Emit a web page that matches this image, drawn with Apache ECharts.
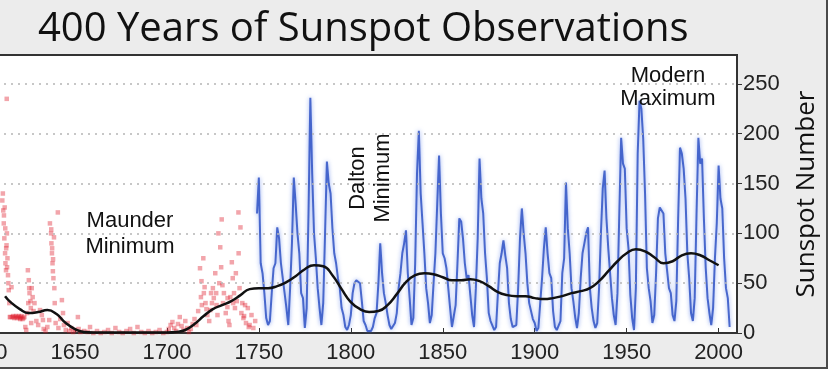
<!DOCTYPE html>
<html>
<head>
<meta charset="utf-8">
<script src="https://cdn.jsdelivr.net/npm/echarts@6/dist/echarts.min.js"></script>
<style>
  html, body { margin: 0; padding: 0; background: #fff; }
  #chart { width: 830px; height: 375px; }
</style>
</head>
<body>
<div id="chart"></div>
<script>
// early telescope observations (red squares), 1610-1748
var earlyYears = [1610.5, 1611, 1611.3, 1611.6, 1611.8, 1612, 1612.2, 1612.5, 1612.8, 1612.9, 1613, 1613.3, 1613.6, 1614, 1614.3, 1614.6,
  1615, 1615.5, 1616, 1616.5, 1617, 1617.5, 1618, 1618.5, 1619, 1619.5, 1620, 1620.5, 1621, 1621.5, 1622, 1622.5, 1623, 1623.5,
  1624, 1624.4, 1624.9, 1625.3, 1625.8, 1626, 1626.5, 1627, 1627.5, 1628, 1629, 1630, 1631, 1632, 1632.6, 1633, 1634, 1635, 1636,
  1636.4, 1637, 1637.2, 1637.5, 1637.8, 1638, 1638.3, 1638.6, 1639, 1639.5, 1640.7, 1641, 1642, 1642.9, 1643.5, 1644, 1645, 1646,
  1647, 1648, 1649, 1650, 1651.6, 1652, 1653, 1655, 1657, 1658.2, 1660, 1662, 1664, 1666, 1668, 1670, 1672, 1674, 1676, 1678,
  1680, 1682, 1684, 1686, 1688, 1690, 1692, 1694, 1696, 1698, 1700, 1701, 1702, 1703, 1704, 1705, 1706, 1707, 1708, 1709, 1710,
  1711, 1712, 1713, 1714, 1715, 1716, 1717, 1718, 1718.5, 1719, 1719.8, 1720.5, 1721, 1722, 1723, 1723.6, 1724, 1725, 1725.5,
  1726.3, 1727, 1728, 1728.5, 1729, 1729.5, 1729.8, 1730.5, 1731, 1732, 1732.9, 1733.5, 1734.5, 1735.3, 1735.8, 1736.5, 1737,
  1738, 1738.9, 1739.5, 1740, 1740.5, 1741, 1741.6, 1742, 1743, 1744, 1745, 1746, 1747, 1748,
  1610.8, 1611.4, 1612.1, 1612.6, 1613.1, 1613.8, 1620.2, 1624.6, 1625.1, 1626.2, 1637.1, 1637.6, 1638.1, 1638.8,
  1718.8, 1720.1, 1721.5, 1724.5, 1726.8, 1727.5, 1730.2, 1733, 1734, 1736, 1737.5, 1739, 1742.5, 1744.5]
var earlyValues = [133, 123, 110, 95, 126, 80, 70, 63, 88, 235, 100, 75, 58, 43, 30, 16,
  16, 46, 16, 17, 15, 16, 17, 15, 16, 17, 15, 16, 17, 14, 15, 16, 6, 3,
  20, 63, 53, 40, 32, 25, 45, 36, 22, 30, 12, 8, 23, 18, 13, 4, 2, 6, 13,
  110, 100, 90, 80, 70, 62, 55, 96, 30, 10, 121, 5, 14, 33, 20, 8, 3, 10,
  2, 5, 1, 3, 16, 4, 1, 2, 1, 6, 0, 2, 0, 1, 3, 0, 5, 1, 0, 2,
  4, 0, 6, 1, 0, 2, 0, 1, 3, 0, 1, 4, 8, 11, 5, 2, 9, 16, 7, 3, 12,
  5, 1, 4, 9, 14, 8, 22, 65, 36, 28, 75, 46, 30, 18, 12, 23, 40, 45, 35,
  60, 28, 100, 50, 86, 66, 114, 30, 40, 20, 26, 12, 36, 71, 55, 40, 25,
  32, 121, 45, 106, 20, 30, 15, 17, 10, 25, 8, 18, 5, 12,
  140, 118, 105, 85, 66, 50, 14, 30, 45, 10, 104, 85, 74, 45,
  52, 40, 24, 30, 40, 18, 48, 35, 8, 30, 60, 80, 28, 6]

// sunspot number (blue), one value per year from 1749
var firstYear = 1749
var sunspots = [120, 156, 70, 60, 40, 15, 8, 12, 40, 65, 70, 106, 95, 70, 55, 40, 25, 8, 45, 90,
  156, 130, 100, 80, 40, 35, 5, 25, 120, 236, 160, 100, 75, 45, 25, 8, 30, 100, 172, 150,
  140, 105, 80, 70, 55, 45, 25, 18, 6, 3, 8, 18, 40, 50, 53, 55, 50, 32, 12, 8,
  2, 0, 2, 6, 15, 20, 50, 90, 60, 40, 30, 18, 8, 4, 2, 10, 20, 45, 60, 80,
  90, 103, 60, 35, 8, 15, 70, 160, 203, 140, 110, 80, 45, 30, 10, 18, 50, 80, 130, 178,
  120, 80, 75, 65, 45, 25, 6, 4, 28, 70, 115, 112, 95, 70, 55, 58, 38, 18, 6, 45,
  95, 175, 135, 120, 80, 55, 20, 12, 14, 3, 6, 40, 70, 80, 93, 78, 65, 30, 14, 6,
  5, 8, 45, 95, 125, 100, 80, 50, 30, 32, 14, 10, 2, 5, 30, 55, 85, 106, 80, 60,
  55, 22, 6, 3, 1, 12, 60, 75, 151, 105, 80, 45, 32, 16, 5, 20, 55, 80, 90, 100,
  106, 45, 25, 12, 5, 10, 45, 100, 145, 163, 115, 85, 60, 35, 18, 8, 40, 120, 196, 170,
  165, 105, 85, 38, 15, 3, 45, 180, 233, 225, 195, 140, 65, 45, 32, 10, 18, 60, 115, 126,
  125, 120, 80, 82, 45, 40, 18, 12, 32, 115, 186, 180, 165, 135, 80, 55, 20, 12, 35, 120,
  196, 170, 175, 115, 65, 35, 20, 8, 25, 75, 110, 168, 135, 125, 75, 45, 35, 6]

// smoothed average (black)
var smoothYears = [1612, 1615, 1620, 1625, 1630, 1635, 1640, 1645, 1650, 1655, 1660, 1665, 1670, 1675, 1680, 1685, 1690, 1695,
  1700, 1705, 1710, 1715, 1720, 1725, 1730, 1735, 1740, 1745, 1750, 1755, 1760, 1765, 1770, 1775, 1780, 1785, 1790, 1795,
  1800, 1805, 1810, 1815, 1820, 1825, 1830, 1835, 1840, 1845, 1850, 1855, 1860, 1865, 1870, 1875, 1880, 1885, 1890, 1895,
  1900, 1905, 1910, 1915, 1920, 1925, 1930, 1935, 1940, 1945, 1950, 1955, 1960, 1965, 1970, 1975, 1980, 1985, 1990, 1995, 2000]
var smoothValues = [37, 31, 24, 20, 21, 23, 19, 10, 4, 1, 0.5, 0.5, 0.5, 0.5, 0.5, 0.5, 0.5, 0.5,
  0.5, 1, 3, 9, 17, 24, 28, 32, 38, 44, 45, 45, 47, 51, 57, 64, 68, 67, 58, 44,
  31, 24, 21, 22, 28, 39, 51, 58, 60, 59, 56, 53, 53, 54, 52, 47, 41, 38, 37, 37,
  35, 34, 35, 37, 40, 42, 45, 52, 62, 72, 80, 84, 82, 76, 70, 72, 78, 80, 78, 73, 68]

var yTicks = [0, 50, 100, 150, 200, 250]
var gridLines = [50, 100, 150, 200, 250]

var earlyData = earlyYears.map(function (y, i) { return [y, earlyValues[i]] })
var sunData = sunspots.map(function (v, i) { return [firstYear + i, v] })
var smoothData = smoothYears.map(function (y, i) { return [y, smoothValues[i]] })

var labelFont = 'Liberation Sans'
var chart = echarts.init(document.getElementById('chart'))
chart.setOption({
  backgroundColor: '#ffffff',
  animation: false,
  title: {
    text: '400 Years of Sunspot Observations',
    left: 33,
    top: 5,
    textStyle: { fontFamily: 'Open Sans', fontSize: 40, fontWeight: 'normal', color: '#111' }
  },
  grid: {
    left: -17, right: 93, top: 55, bottom: 42,
    containLabel: false,
    outerBoundsMode: 'none',
    show: true, backgroundColor: '#ffffff', borderColor: '#333', borderWidth: 2
  },
  xAxis: {
    type: 'value',
    min: 1600, max: 2010, interval: 50,
    axisLine: { lineStyle: { color: '#333', width: 2 } },
    axisTick: { inside: true, length: 5, lineStyle: { color: '#333' } },
    axisLabel: {
      fontFamily: labelFont, fontSize: 22, color: '#222', margin: 9,
      formatter: function (v) { return String(v) }
    },
    splitLine: { show: false }
  },
  yAxis: {
    type: 'value',
    position: 'right',
    min: 0, max: 279, interval: 50,
    name: 'Sunspot Number',
    nameLocation: 'middle',
    nameGap: 57,
    nameTextStyle: { fontFamily: 'Open Sans', fontSize: 26, color: '#111' },
    axisLine: { show: true, lineStyle: { color: '#333', width: 2 } },
    axisTick: {
      show: true, length: 5, lineStyle: { color: '#333' },
      customValues: yTicks
    },
    axisLabel: {
      fontFamily: labelFont, fontSize: 22, color: '#222', margin: 6,
      formatter: function (v) { return yTicks.indexOf(v) >= 0 ? String(v) : '' }
    },
    splitLine: { show: false }
  },
  graphic: [
    {
      type: 'rect', z: -100, silent: true,
      shape: { x: -10, y: -10, width: 837, height: 378 },
      style: { fill: '#ececec', stroke: '#4a4a4a', lineWidth: 2 }
    },
    {
      type: 'text', z: 100, x: 130, y: 234,
      style: { text: 'Maunder\nMinimum', font: '22px "Liberation Sans"', fill: '#111', align: 'center', verticalAlign: 'middle', lineHeight: 26 }
    },
    {
      type: 'text', z: 100, x: 370, y: 178, rotation: Math.PI / 2,
      style: { text: 'Dalton\nMinimum', font: '22px "Liberation Sans"', fill: '#111', align: 'center', verticalAlign: 'middle', lineHeight: 25 }
    },
    {
      type: 'text', z: 100, x: 668, y: 87,
      style: { text: 'Modern\nMaximum', font: '22px "Liberation Sans"', fill: '#111', align: 'center', verticalAlign: 'middle', lineHeight: 23 }
    }
  ],
  series: [
    {
      name: 'early',
      type: 'scatter',
      data: earlyData,
      symbol: 'rect',
      symbolSize: 4.5,
      itemStyle: { color: 'rgba(222,30,45,0.5)' },
      // dotted horizontal grid lines
      markLine: {
        silent: true,
        symbol: 'none',
        label: { show: false },
        lineStyle: { color: '#b5b5b5', width: 1.5, type: [2, 5] },
        data: gridLines.map(function (v) { return { yAxis: v } })
      }
    },
    {
      name: 'sunspots',
      type: 'line',
      data: sunData,
      showSymbol: false,
      lineStyle: {
        color: '#2f52c4', width: 2, opacity: 0.85,
        shadowBlur: 4, shadowColor: 'rgba(70,110,230,0.7)'
      }
    },
    {
      name: 'smooth',
      type: 'line',
      data: smoothData,
      smooth: true,
      showSymbol: false,
      lineStyle: { color: '#111', width: 2.5 },
      z: 5
    }
  ]
})
</script>
</body>
</html>
